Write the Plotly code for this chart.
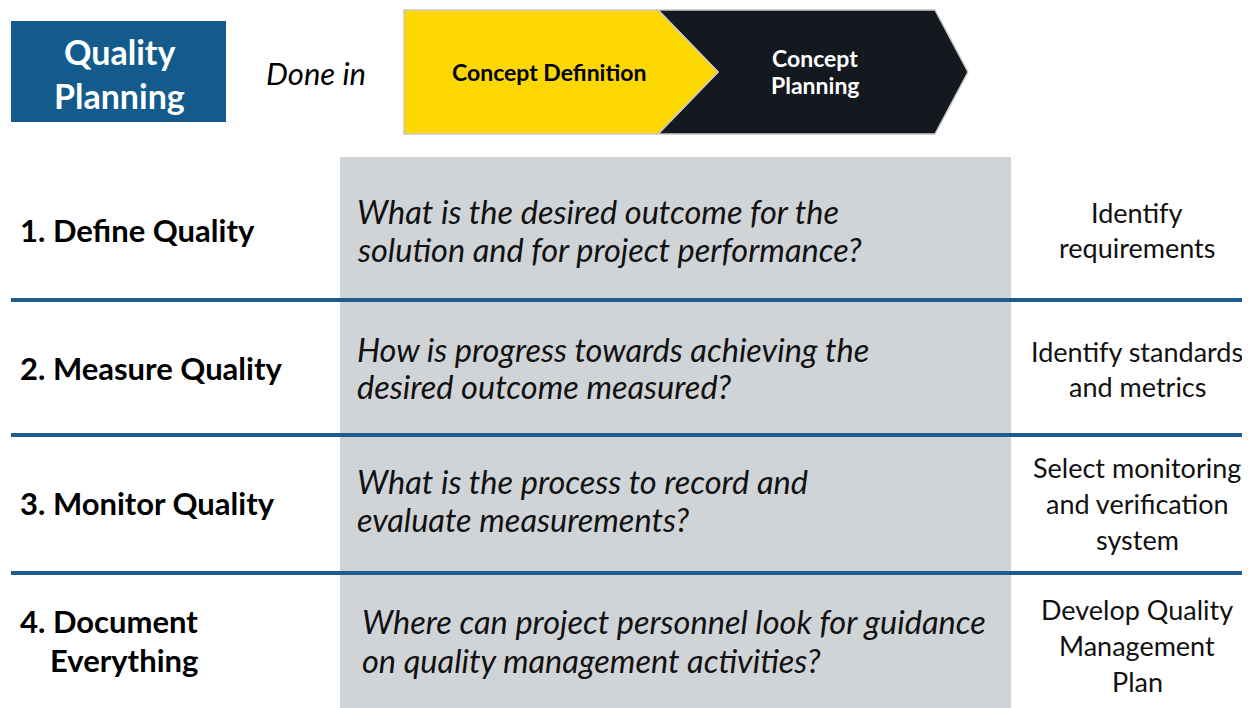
import plotly.graph_objects as go

# ---- content ----
title_lines = ["Quality", "Planning"]
done_in = "Done in"
phases = ["Concept Definition", "Concept Planning"]
steps = [["1. Define Quality"], ["2. Measure Quality"], ["3. Monitor Quality"], ["4. Document", "Everything"]]
questions = [
    ["What is the desired outcome for the", "solution and for project performance?"],
    ["How is progress towards achieving the", "desired outcome measured?"],
    ["What is the process to record and", "evaluate measurements?"],
    ["Where can project personnel look for guidance", "on quality management activities?"],
]
actions = [
    ["Identify", "requirements"],
    ["Identify standards", "and metrics"],
    ["Select monitoring", "and verification", "system"],
    ["Develop Quality", "Management", "Plan"],
]

# ---- layout geometry (pixel space) ----
W, H = 1250, 708
OFF = 8  # page body margin
FONT = "Lato"
BLUE = "#135b8c"
LINE_BLUE = "#1d5c8c"
YELLOW = "#fdd700"
DARK = "#13191e"
GRAY = "#d0d4d7"

step_y = [[230], [368], [503], [621, 660]]
step_x = [[18], [18], [18], [18, 48]]
q_y = [[211, 249], [349, 386], [481, 519], [621, 660]]
q_x = [355, 355, 355, 360]
q_size = [32.5, 32.5, 32.5, 32.5]
a_y = [[212, 247], [351, 386], [467, 503, 539], [609, 645, 681]]
sep_y = [300, 435, 573]

fig = go.Figure()
fig.add_trace(go.Scatter(x=[OFF, W], y=[OFF, H], mode="markers", marker=dict(opacity=0), hoverinfo="skip", showlegend=False))

shapes = []
annotations = []

# title box
shapes.append(dict(type="rect", x0=11, x1=226, y0=21, y1=122, fillcolor=BLUE, line=dict(width=0), layer="below"))
annotations.append(dict(x=119, y=51, text=f"<b>{title_lines[0]}</b>", font=dict(family=FONT, size=34, color="white")))
annotations.append(dict(x=119, y=95, text=f"<b>{title_lines[1]}</b>", font=dict(family=FONT, size=34, color="white")))
annotations.append(dict(x=264, y=73, xanchor="left", text=f"<i>{done_in}</i>", font=dict(family=FONT, size=31, color="black")))

# chevrons
top, bot, mid = 10, 134, 72
shapes.append(dict(type="path", path=f"M 658 {top} L 935 {top} L 968 {mid} L 935 {bot} L 658 {bot} L 718 {mid} Z",
                   fillcolor=DARK, line=dict(color="#c8c8c8", width=1.5), layer="below"))
shapes.append(dict(type="path", path=f"M 404 {top} L 658 {top} L 718 {mid} L 658 {bot} L 404 {bot} Z",
                   fillcolor=YELLOW, line=dict(color="#c8c8c8", width=1.5), layer="below"))
annotations.append(dict(x=549, y=72, text=f"<b>{phases[0]}</b>", font=dict(family=FONT, size=23, color="black")))
p2 = phases[1].split(" ")
annotations.append(dict(x=815, y=58, text=f"<b>{p2[0]}</b>", font=dict(family=FONT, size=23, color="white")))
annotations.append(dict(x=815, y=85, text=f"<b>{p2[1]}</b>", font=dict(family=FONT, size=23, color="white")))

# gray panel
shapes.append(dict(type="rect", x0=340, x1=1011, y0=157, y1=H + 2, fillcolor=GRAY, line=dict(width=0), layer="below"))

# separators
for y in sep_y:
    shapes.append(dict(type="line", x0=11, x1=W + 10, y0=y, y1=y, line=dict(color=LINE_BLUE, width=4), layer="above"))

# rows
for i in range(4):
    for txt, y, x in zip(steps[i], step_y[i], step_x[i]):
        annotations.append(dict(x=x, y=y, xanchor="left", text=f"<b>{txt}</b>", font=dict(family=FONT, size=31, color="black")))
    for txt, y in zip(questions[i], q_y[i]):
        annotations.append(dict(x=q_x[i], y=y, xanchor="left", text=f"<i>{txt}</i>", font=dict(family=FONT, size=q_size[i], color="#111111")))
    for txt, y in zip(actions[i], a_y[i]):
        annotations.append(dict(x=1137, y=y, text=txt, font=dict(family=FONT, size=27, color="#111111")))

for a in annotations:
    a.setdefault("xanchor", "center")
    a.update(xref="x", yref="y", yanchor="middle", showarrow=False)
for s in shapes:
    s.update(xref="x", yref="y")

fig.update_layout(
    width=W - OFF, height=H - OFF, margin=dict(l=0, r=0, t=0, b=0),
    paper_bgcolor="white", plot_bgcolor="white",
    xaxis=dict(range=[OFF, W], visible=False, fixedrange=True),
    yaxis=dict(range=[H, OFF], visible=False, fixedrange=True),
    shapes=shapes, annotations=annotations, showlegend=False,
)
fig.write_html("out.html", config={"displayModeBar": False})
